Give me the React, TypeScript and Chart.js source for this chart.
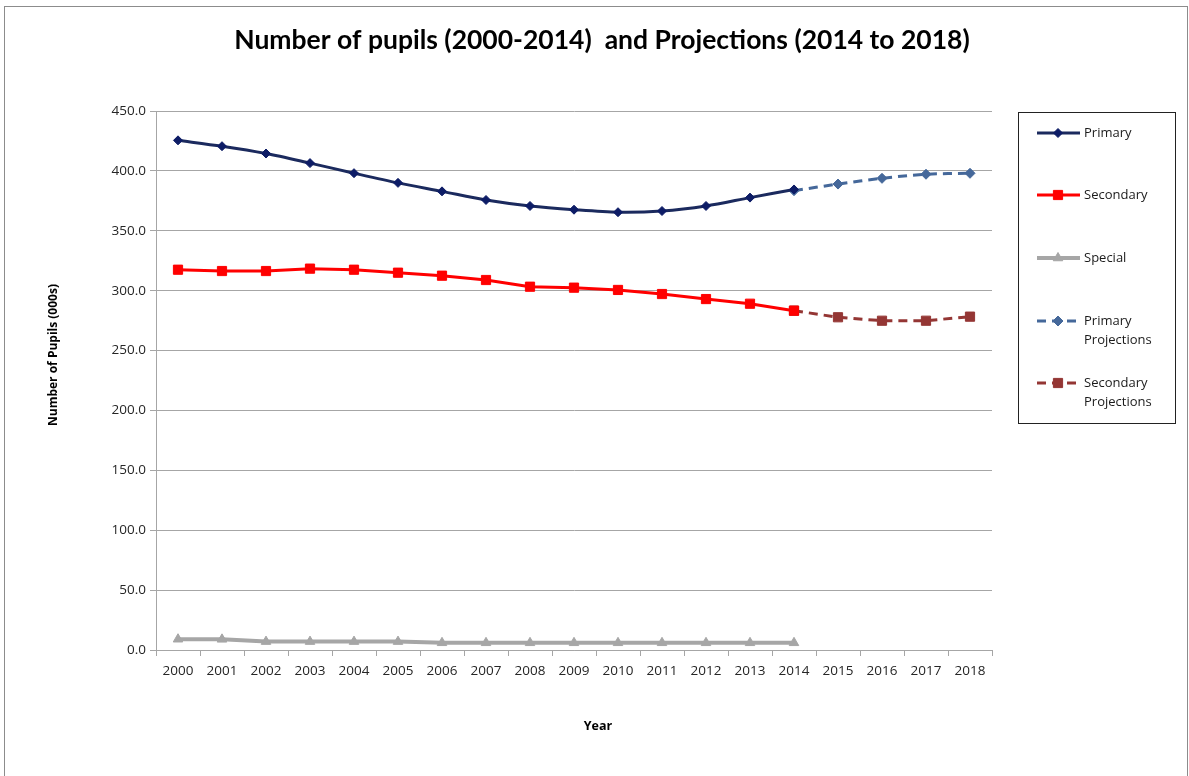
import React, { useEffect, useRef } from 'react';
import { Chart, registerables } from 'chart.js';
import { drawPoint } from 'chart.js/helpers';

Chart.register(...registerables);

// Pupil numbers (thousands) by school year
const years = [
  '2000', '2001', '2002', '2003', '2004', '2005', '2006', '2007', '2008', '2009',
  '2010', '2011', '2012', '2013', '2014', '2015', '2016', '2017', '2018',
];

const primary = [
  425.5, 420.6, 414.5, 406.5, 398.1, 390.0, 382.9, 375.7, 370.7, 367.6,
  365.5, 366.5, 370.7, 377.7, 384.5, null, null, null, null,
];

const secondary = [
  317.5, 316.4, 316.4, 318.4, 317.5, 315.0, 312.5, 308.9, 303.3, 302.5,
  300.6, 297.2, 293.0, 289.1, 283.3, null, null, null, null,
];

const special = [
  9.0, 8.9, 7.0, 7.0, 7.0, 7.0, 6.0, 6.0, 6.0, 6.0,
  6.0, 6.0, 6.0, 6.0, 6.0, null, null, null, null,
];

const primaryProjections = [
  null, null, null, null, null, null, null, null, null, null,
  null, null, null, null, 383.5, 389.0, 393.8, 397.2, 398.0,
];

const secondaryProjections = [
  null, null, null, null, null, null, null, null, null, null,
  null, null, null, null, 283.3, 277.8, 274.9, 274.9, 278.3,
];

const yTicks = [0, 50, 100, 150, 200, 250, 300, 350, 400, 450];

const chartTitle = 'Number of pupils (2000-2014)  and Projections (2014 to 2018)';
const xTitle = 'Year';
const yTitle = 'Number of Pupils (000s)';

const W = 1189;
const H = 776;
const UI_FONT = '"Open Sans", "DejaVu Sans", sans-serif';
const TITLE_FONT = 'Lato, "Open Sans", sans-serif';
const GRID = '#a6a6a6';

function wrapWords(ctx: CanvasRenderingContext2D, text: string, maxWidth: number): string[] {
  const words = text.split(' ');
  const lines: string[] = [];
  let line = '';
  for (const w of words) {
    const test = line ? line + ' ' + w : w;
    if (line && ctx.measureText(test).width > maxWidth) {
      lines.push(line);
      line = w;
    } else {
      line = test;
    }
  }
  if (line) lines.push(line);
  return lines;
}

// Frame, titles and the boxed legend on the right
const decorations = {
  id: 'decorations',
  beforeDraw(chart: any) {
    const ctx = chart.ctx as CanvasRenderingContext2D;
    ctx.save();
    ctx.fillStyle = '#ffffff';
    ctx.fillRect(0, 0, chart.width, chart.height);
    ctx.strokeStyle = '#8c8c8c';
    ctx.lineWidth = 1;
    ctx.strokeRect(4.5, 6.5, chart.width - 6, chart.height + 20);
    ctx.restore();
  },
  afterDraw(chart: any) {
    const ctx = chart.ctx as CanvasRenderingContext2D;
    ctx.save();

    // main title
    ctx.fillStyle = '#000000';
    ctx.textAlign = 'center';
    ctx.textBaseline = 'middle';
    ctx.font = `bold 26.5px ${TITLE_FONT}`;
    ctx.fillText(chartTitle, 602, 40);

    // axis titles
    ctx.font = `bold 12.5px ${UI_FONT}`;
    ctx.fillText(xTitle, 598, 726);
    ctx.save();
    ctx.translate(54, 355);
    ctx.rotate(-Math.PI / 2);
    ctx.font = `bold 12px ${UI_FONT}`;
    ctx.fillText(yTitle, 0, 0);
    ctx.restore();

    // legend
    const box = { x: 1018.5, y: 112.5, w: 157, h: 311 };
    ctx.strokeStyle = '#222222';
    ctx.lineWidth = 1;
    ctx.strokeRect(box.x, box.y, box.w, box.h);

    ctx.font = `13px ${UI_FONT}`;
    ctx.textAlign = 'left';
    const rowY = [133, 195, 258, 321, 383];
    chart.data.datasets.forEach((ds: any, i: number) => {
      const y = rowY[i];
      ctx.save();
      ctx.strokeStyle = ds.borderColor;
      ctx.lineWidth = ds.borderWidth;
      ctx.setLineDash(ds.borderDash || []);
      ctx.beginPath();
      ctx.moveTo(1037, y);
      ctx.lineTo(1080, y);
      ctx.stroke();
      ctx.setLineDash([]);
      ctx.fillStyle = ds.pointBackgroundColor;
      ctx.strokeStyle = ds.pointBorderColor;
      ctx.lineWidth = 1;
      drawPoint(ctx, {
        pointStyle: ds.pointStyle,
        radius: ds.pointRadius,
        rotation: 0,
        borderWidth: 1,
      } as any, 1058, y);
      ctx.restore();

      ctx.fillStyle = '#1a1a1a';
      const lines = wrapWords(ctx, ds.label, 85);
      lines.forEach((ln, k) => ctx.fillText(ln, 1084, y + k * 19));
    });

    ctx.restore();
  },
};

export default function App() {
  const canvasRef = useRef<HTMLCanvasElement | null>(null);

  useEffect(() => {
    const canvas = canvasRef.current;
    if (!canvas) return;

    const chart = new Chart(canvas, {
      type: 'line',
      data: {
        labels: years,
        datasets: [
          {
            label: 'Primary',
            data: primary,
            borderColor: '#1b2a5e',
            borderWidth: 3,
            pointStyle: 'rectRot',
            pointRadius: 4.5,
            pointBackgroundColor: '#0d1c66',
            pointBorderColor: '#0d1c66',
            pointBorderWidth: 1,
            tension: 0.3,
            spanGaps: false,
          },
          {
            label: 'Secondary',
            data: secondary,
            borderColor: '#ff0000',
            borderWidth: 3,
            pointStyle: 'rect',
            pointRadius: 6.5,
            pointBackgroundColor: '#ff0000',
            pointBorderColor: '#ff0000',
            pointBorderWidth: 1,
            tension: 0,
          },
          {
            label: 'Special',
            data: special,
            borderColor: '#a6a6a6',
            borderWidth: 4,
            pointStyle: 'triangle',
            pointRadius: 5.5,
            pointBackgroundColor: '#a6a6a6',
            pointBorderColor: '#a6a6a6',
            pointBorderWidth: 1,
            tension: 0,
          },
          {
            label: 'Primary Projections',
            data: primaryProjections,
            borderColor: '#45689a',
            borderWidth: 3,
            borderDash: [9, 6],
            pointStyle: 'rectRot',
            pointRadius: 5,
            pointBackgroundColor: '#45689a',
            pointBorderColor: '#45689a',
            pointBorderWidth: 1,
            tension: 0.3,
          },
          {
            label: 'Secondary Projections',
            data: secondaryProjections,
            borderColor: '#943634',
            borderWidth: 3,
            borderDash: [9, 6],
            pointStyle: 'rect',
            pointRadius: 6.5,
            pointBackgroundColor: '#943634',
            pointBorderColor: '#943634',
            pointBorderWidth: 1,
            tension: 0,
          },
        ],
      },
      options: {
        responsive: false,
        animation: false,
        layout: { padding: { left: 44, right: 197, top: 111, bottom: 39 } },
        plugins: {
          legend: { display: false },
          title: { display: false },
          tooltip: { enabled: false },
        },
        scales: {
          x: {
            type: 'category',
            offset: true,
            afterFit: (scale: any) => { scale.height = 87; },
            grid: {
              display: true,
              offset: true,
              drawOnChartArea: false,
              drawTicks: true,
              tickLength: 6,
              color: GRID,
            },
            border: { display: true, color: GRID, width: 1 },
            ticks: {
              color: '#262626',
              font: { family: UI_FONT, size: 13.5 },
              padding: 7,
              maxRotation: 0,
              autoSkip: false,
            },
          },
          y: {
            min: yTicks[0],
            max: yTicks[yTicks.length - 1],
            afterFit: (scale: any) => { scale.width = 112; },
            afterBuildTicks: (scale: any) => {
              scale.ticks = yTicks.map((v) => ({ value: v }));
            },
            grid: {
              color: GRID,
              lineWidth: 1,
              drawTicks: true,
              tickLength: 6,
            },
            border: { display: true, color: GRID, width: 1 },
            ticks: {
              color: '#262626',
              font: { family: UI_FONT, size: 13.5 },
              padding: 4,
              callback: (v: any) => Number(v).toFixed(1),
            },
          },
        },
      },
      plugins: [decorations],
    });

    return () => chart.destroy();
  }, []);

  return (
    <div style={{ position: 'absolute', left: 0, top: 0, width: W, height: H, background: '#fff' }}>
      <canvas ref={canvasRef} width={W} height={H} style={{ display: 'block' }} />
    </div>
  );
}
